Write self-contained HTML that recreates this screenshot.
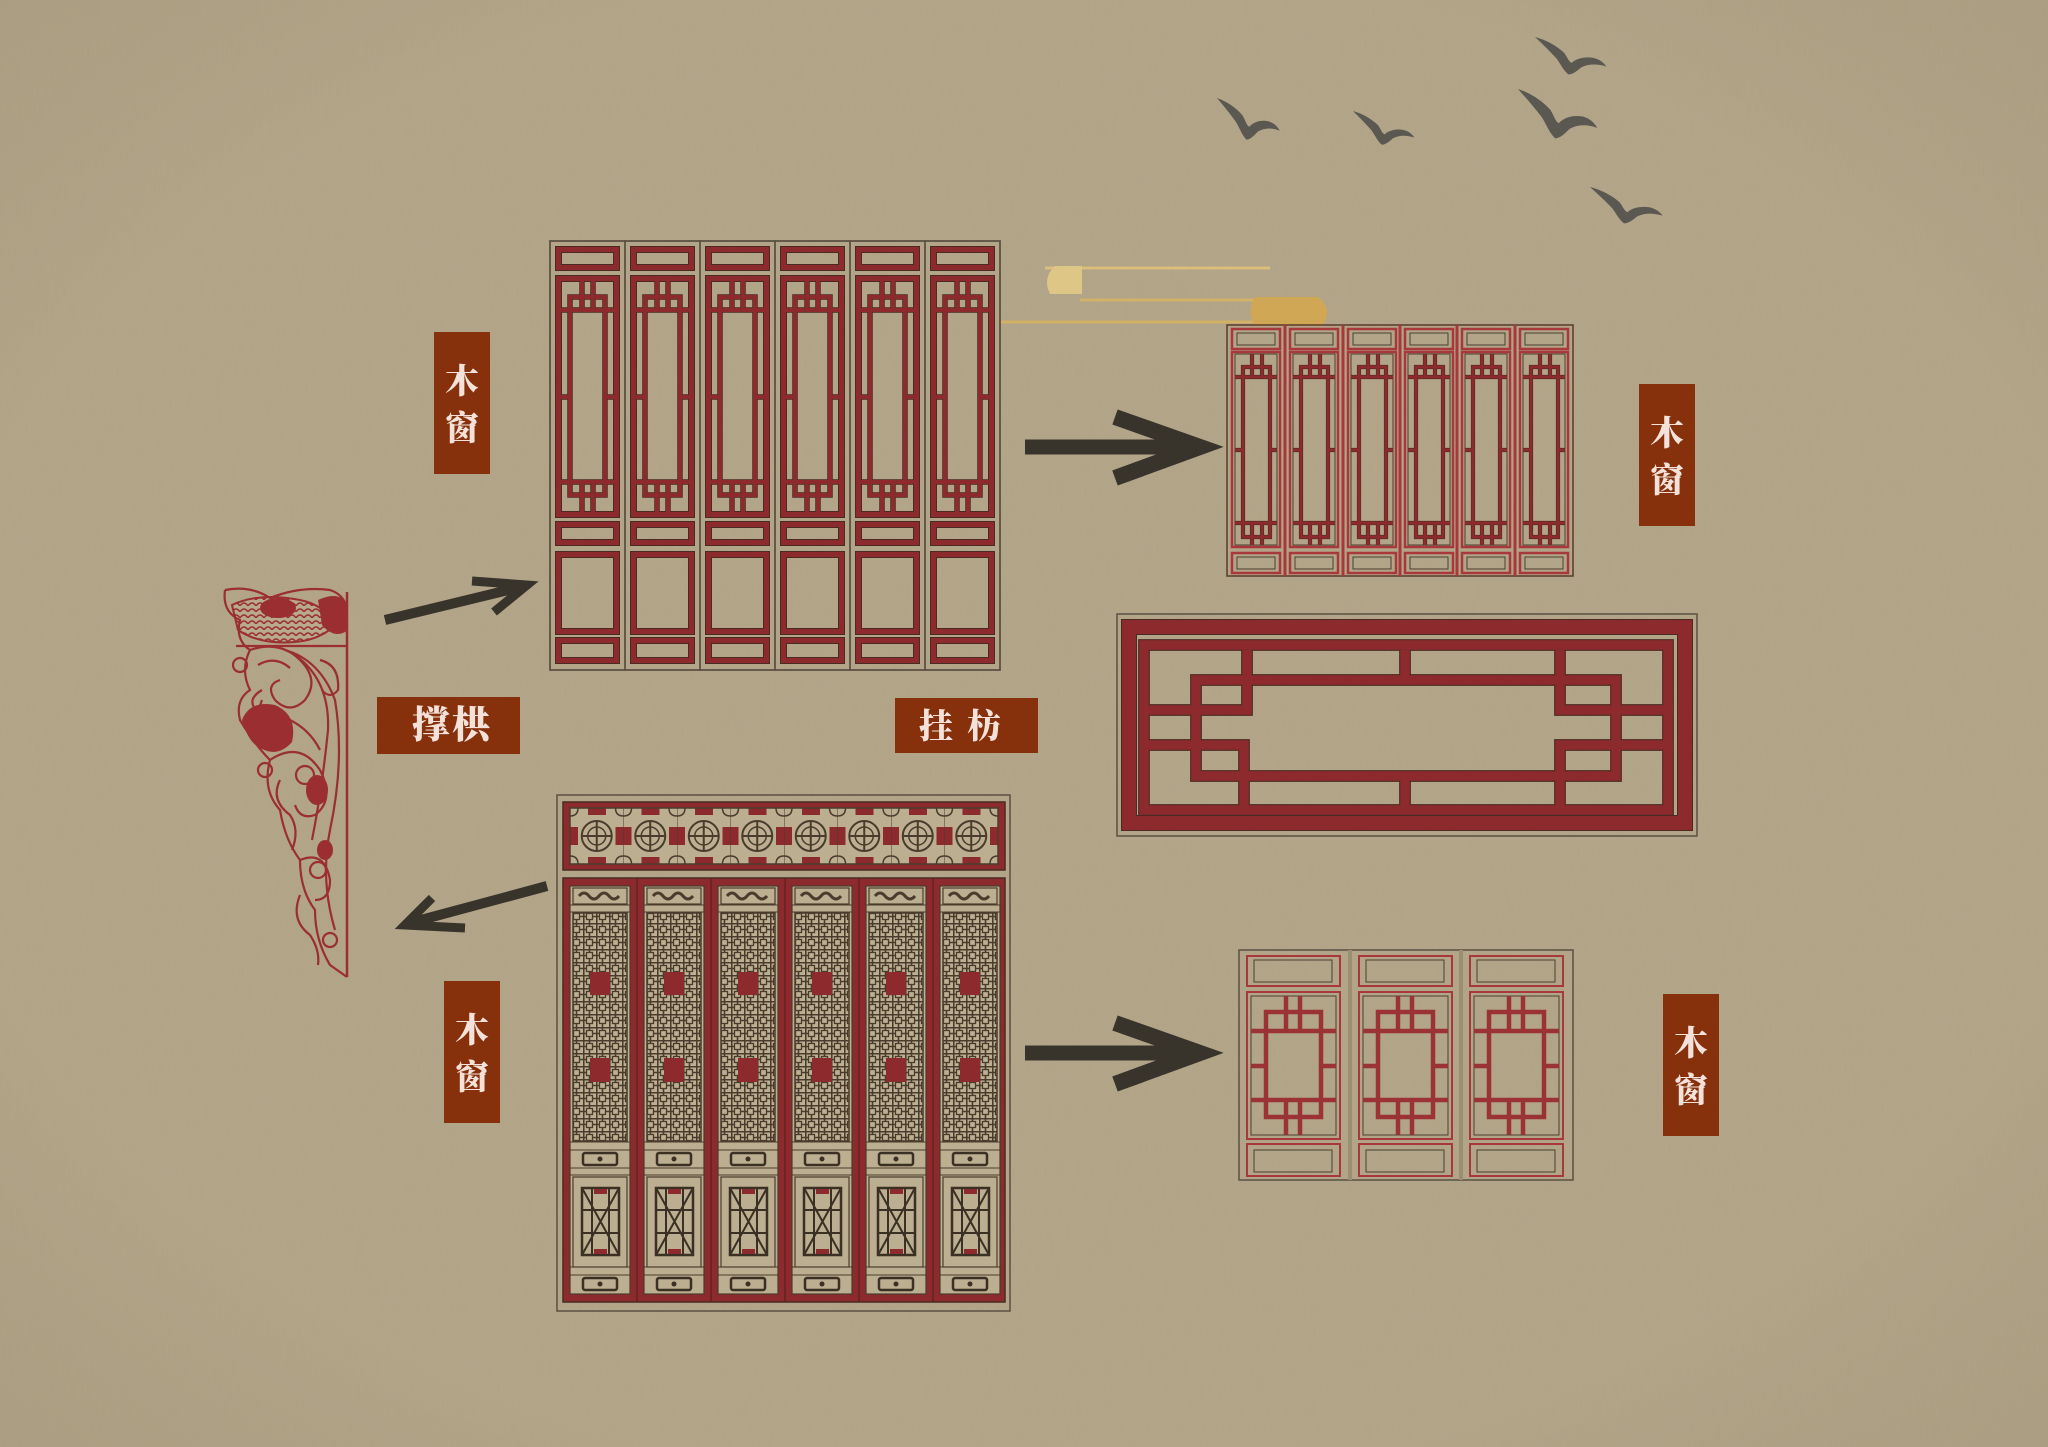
<!DOCTYPE html>
<html><head><meta charset="utf-8">
<style>
html,body{margin:0;padding:0;background:#b3a588;}
svg{display:block}
.lbl{font-family:"Liberation Serif","Noto Serif CJK SC",serif;font-weight:900;fill:#f4e2da}
</style></head>
<body>
<svg width="2048" height="1447" viewBox="0 0 2048 1447" xmlns="http://www.w3.org/2000/svg">
<defs>
  <filter id="noise" x="0" y="0" width="100%" height="100%">
    <feTurbulence type="fractalNoise" baseFrequency="0.9 0.05" numOctaves="2" seed="3"/>
    <feColorMatrix values="0 0 0 0 0.35  0 0 0 0 0.3  0 0 0 0 0.2  0 0 0 0.5 0"/>
  </filter>
  <radialGradient id="vig" cx="50%" cy="50%" r="75%">
    <stop offset="0.7" stop-color="#000" stop-opacity="0"/>
    <stop offset="1" stop-color="#3a2e1a" stop-opacity="0.07"/>
  </radialGradient>
  <pattern id="scales" width="8" height="6" patternUnits="userSpaceOnUse">
    <rect width="8" height="6" fill="#b8aa8c"/>
    <path d="M0 6Q4 0 8 6" stroke="#9a2e30" stroke-width="1.5" fill="none"/>
  </pattern>
  <pattern id="grid" width="13" height="13" patternUnits="userSpaceOnUse">
    <rect width="13" height="13" fill="#bdaf92"/>
    <path d="M0 0.75H13M0.75 0V13M6.5 0V4M6.5 9V13M0 6.5H4M9 6.5H13" stroke="#4a3c2c" stroke-width="1.6" fill="none"/>
    <rect x="3.5" y="3.5" width="6" height="6" fill="none" stroke="#4a3c2c" stroke-width="1.3"/>
  </pattern>
  <pattern id="ros" x="570" y="808" width="53.5" height="56" patternUnits="userSpaceOnUse">
    <rect width="53.5" height="56" fill="#bcae90"/>
    <rect x="0" y="19" width="8" height="18" fill="#8c2a2e"/>
    <rect x="45.5" y="19" width="8" height="18" fill="#8c2a2e"/>
    <rect x="18" y="0" width="18" height="7" fill="#8c2a2e"/>
    <rect x="18" y="49" width="18" height="7" fill="#8c2a2e"/>
    <circle cx="26.75" cy="28" r="15" fill="none" stroke="#4a3c2c" stroke-width="2"/>
    <circle cx="26.75" cy="28" r="9" fill="none" stroke="#4a3c2c" stroke-width="1.5"/>
    <path d="M26.75 13V43M11.75 28H41.75" stroke="#4a3c2c" stroke-width="2"/>
    <path d="M0 8Q8 8 8 0M53.5 8Q45.5 8 45.5 0M0 48Q8 48 8 56M53.5 48Q45.5 48 45.5 56" stroke="#4a3c2c" stroke-width="1.5" fill="none"/>
    <path d="M0 0H53.5M0 56H53.5M0 0V56" stroke="#4a3c2c" stroke-width="1"/>
  </pattern>

  <path id="tdF" fill="none" d="M8.5 8.5H66.5V26.5H8.5Z M8.5 37.5H66.5V273.5H8.5Z M8.5 283.5H66.5V301.5H8.5Z M8.5 313.5H66.5V390.5H8.5Z M8.5 399.5H66.5V419.5H8.5Z"/>
  <path id="tdL" fill="none" d="M20 56H55V254H20Z M11 69H64 M11 241H64 M32 40V69 M43 40V69 M32 241V271 M43 241V271 M11 156H20 M55 156H64"/>
  <g id="tdP">
    <rect x="0" y="0" width="75" height="429" fill="none" stroke="#5a5040" stroke-width="1.5"/>
    <use href="#tdF" stroke="#4a2a22" stroke-width="7"/>
    <use href="#tdF" stroke="#8c2a2e" stroke-width="5"/>
    <use href="#tdL" stroke="#4a2a22" stroke-width="5.5"/>
    <use href="#tdL" stroke="#8c2a2e" stroke-width="4"/>
  </g>

  <path id="rwL" fill="none" d="M16 42H43V212H16Z M8 52H50 M8 198H50 M25 29V52 M35 29V52 M25 198V220 M35 198V220 M8 125H16 M43 125H50"/>
  <g id="rwP">
    <rect x="5" y="4" width="48" height="20" fill="none" stroke="#a8383c" stroke-width="2.5"/>
    <rect x="10" y="8" width="38" height="12" fill="none" stroke="#4a4030" stroke-width="1"/>
    <rect x="5" y="27" width="48" height="195" fill="none" stroke="#a8383c" stroke-width="2.5"/>
    <rect x="8" y="29" width="42" height="191" fill="none" stroke="#4a4030" stroke-width="1"/>
    <rect x="5" y="228" width="48" height="20" fill="none" stroke="#a8383c" stroke-width="2.5"/>
    <rect x="10" y="232" width="38" height="12" fill="none" stroke="#4a4030" stroke-width="1"/>
    <use href="#rwL" stroke="#5a2a26" stroke-width="4.2"/>
    <use href="#rwL" stroke="#8c2a2e" stroke-width="2.8"/>
  </g>

  <path id="swL" fill="none" d="M27 62H82V167H27Z M12 81H97 M12 150H97 M47 46V81 M61 46V81 M47 150V185 M61 150V185 M12 116H27 M82 116H97"/>
  <g id="swP">
    <rect x="8" y="6" width="93" height="30" fill="none" stroke="#a8383c" stroke-width="2"/>
    <rect x="15" y="10" width="78" height="22" fill="none" stroke="#4a4030" stroke-width="1"/>
    <rect x="8" y="42" width="93" height="147" fill="none" stroke="#a8383c" stroke-width="2"/>
    <rect x="12" y="46" width="85" height="139" fill="none" stroke="#4a4030" stroke-width="1"/>
    <rect x="8" y="194" width="93" height="32" fill="none" stroke="#a8383c" stroke-width="2"/>
    <rect x="15" y="200" width="78" height="22" fill="none" stroke="#4a4030" stroke-width="1"/>
    <use href="#swL" stroke="#9a3236" stroke-width="4.5"/>
  </g>

  <g id="bdP">
    <rect x="0" y="886" width="60" height="408" fill="#bcae90" stroke="#4a3c2c" stroke-width="1.2"/>
    <rect x="3" y="888" width="54" height="16" fill="none" stroke="#4a3c2c" stroke-width="1.2"/>
    <path d="M9 896q5-6 10 0t10 0t10 0t10 0" stroke="#4a3c2c" stroke-width="3" fill="none"/>
    <path d="M0 905H60M0 912H60" stroke="#4a3c2c" stroke-width="1"/>
    <rect x="3" y="913" width="54" height="228" fill="url(#grid)" stroke="#4a3c2c" stroke-width="1.5"/>
    <rect x="20" y="972" width="20" height="23" fill="#8c2a2e"/>
    <rect x="20" y="1058" width="20" height="24" fill="#8c2a2e"/>
    <path d="M0 1142H60M0 1150H60M0 1168H60M0 1175H60" stroke="#4a3c2c" stroke-width="1"/>
    <rect x="13" y="1153" width="34" height="12" rx="2" fill="none" stroke="#3a3024" stroke-width="2.5"/>
    <circle cx="30" cy="1159" r="2.5" fill="#3a3024"/>
    <rect x="3" y="1177" width="54" height="90" fill="none" stroke="#4a3c2c" stroke-width="1.2"/>
    <rect x="12" y="1188" width="37" height="67" fill="none" stroke="#3a3024" stroke-width="2.5"/>
    <path d="M12 1188L49 1255M49 1188L12 1255M12 1210H49M12 1233H49M22 1188V1255M39 1188V1255" stroke="#3a3024" stroke-width="2" fill="none"/>
    <rect x="24" y="1189" width="13" height="5" fill="#8c2a2e"/>
    <rect x="24" y="1249" width="13" height="5" fill="#8c2a2e"/>
    <path d="M0 1267H60M0 1275H60" stroke="#4a3c2c" stroke-width="1"/>
    <rect x="13" y="1278" width="34" height="12" rx="2" fill="none" stroke="#3a3024" stroke-width="2.5"/>
    <circle cx="30" cy="1284" r="2.5" fill="#3a3024"/>
  </g>

  <path id="bird" d="M0 0 C10 4 20 12 27 22 C30 28 31 34 34 36 C38 30 46 27 54 29 C60 31 64 36 66 41 C58 37 50 37 43 42 C39 47 35 52 31 52 C26 46 24 38 20 30 C14 20 7 10 0 0Z" fill="#5b5852"/>
</defs>

<rect width="2048" height="1447" fill="#b4a689"/>
<rect width="2048" height="1447" filter="url(#noise)" opacity="0.3"/>
<rect width="2048" height="1447" fill="url(#vig)"/>

<!-- gold cloud -->
<g opacity="0.85">
  <path d="M1045 268 H1270" stroke="#e3c27a" stroke-width="3"/>
  <path d="M1055 266 Q1042 278 1050 294 L1082 294 L1082 266Z" fill="#e6cd86"/>
  <path d="M1080 300 H1260" stroke="#d9b462" stroke-width="3"/>
  <path d="M1000 322 H1260" stroke="#d8b361" stroke-width="3"/>
  <path d="M1255 297 L1318 297 Q1334 310 1322 326 L1255 326 Q1246 312 1255 297Z" fill="#d6a84c"/>
</g>

<!-- birds -->
<use href="#bird" transform="translate(1217,98) scale(0.95,0.8)"/>
<use href="#bird" transform="translate(1353,111) scale(0.93,0.65)"/>
<use href="#bird" transform="translate(1535,37) scale(1.08,0.72)"/>
<use href="#bird" transform="translate(1518,89) scale(1.2,0.95)"/>
<use href="#bird" transform="translate(1590,187) scale(1.1,0.7)"/>

<!-- top door -->
<rect x="550" y="241" width="450" height="429" fill="none" stroke="#5a5040" stroke-width="1.5"/>
<use href="#tdP" x="550" y="241"/>
<use href="#tdP" x="625" y="241"/>
<use href="#tdP" x="700" y="241"/>
<use href="#tdP" x="775" y="241"/>
<use href="#tdP" x="850" y="241"/>
<use href="#tdP" x="925" y="241"/>

<!-- right top window -->
<rect x="1227" y="325" width="346" height="251" fill="none" stroke="#5a3a2c" stroke-width="1.5"/>
<path d="M1285 325V576M1343 325V576M1400 325V576M1457 325V576M1515 325V576" stroke="#a8383c" stroke-width="3"/>
<use href="#rwP" x="1227" y="325"/>
<use href="#rwP" x="1285" y="325"/>
<use href="#rwP" x="1343" y="325"/>
<use href="#rwP" x="1400" y="325"/>
<use href="#rwP" x="1457" y="325"/>
<use href="#rwP" x="1515" y="325"/>

<!-- hanging beam -->
<rect x="1117" y="614" width="580" height="222" fill="none" stroke="#5a5040" stroke-width="1.5"/>
<rect x="1129" y="627" width="556" height="196" fill="none" stroke="#4a2a22" stroke-width="16"/>
<rect x="1129" y="627" width="556" height="196" fill="none" stroke="#8c2a2e" stroke-width="14"/>
<path id="beamL" fill="none" d="M1144 645H1668V810H1144Z M1196 680H1616V776H1196Z M1247 650V710H1141 M1141 745H1244V808 M1405 650V680 M1405 776V808 M1560 650V710H1673 M1673 745H1560V808" stroke="#4a2a22" stroke-width="11.5"/>
<use href="#beamL" stroke="#8c2a2e" stroke-width="9.5"/>
<path fill="none" stroke="#8c2a2e" stroke-width="9.5" d="M1144 645H1668V810H1144Z M1196 680H1616V776H1196Z M1247 650V710H1141 M1141 745H1244V808 M1405 650V680 M1405 776V808 M1560 650V710H1673 M1673 745H1560V808"/>

<!-- bottom door -->
<rect x="557" y="795" width="453" height="516" fill="none" stroke="#5a5040" stroke-width="1.5"/>
<rect x="563" y="802" width="442" height="68" fill="#8c2a2e" stroke="#4a2a22" stroke-width="1.5"/>
<rect x="570" y="808" width="428" height="56" fill="url(#ros)" stroke="#4a3c2c" stroke-width="1.5"/>
<rect x="563" y="878" width="442" height="424" fill="#8c2a2e" stroke="#4a2a22" stroke-width="1.5"/>
<path d="M637 878V1302M711 878V1302M785 878V1302M859 878V1302M933 878V1302" stroke="#5a2222" stroke-width="1.2"/>
<use href="#bdP" x="570"/>
<use href="#bdP" x="644"/>
<use href="#bdP" x="718"/>
<use href="#bdP" x="792"/>
<use href="#bdP" x="866"/>
<use href="#bdP" x="940"/>

<!-- bottom small window -->
<rect x="1239" y="950" width="334" height="230" fill="none" stroke="#5a5040" stroke-width="1.5"/>
<path d="M1350 950V1180M1461 950V1180" stroke="#9c8e72" stroke-width="4"/>
<use href="#swP" x="1239" y="950"/>
<use href="#swP" x="1351" y="950"/>
<use href="#swP" x="1462" y="950"/>

<!-- bracket carving -->
<g fill="#9a2e30">
  <path d="M232 605 Q260 592 300 600 Q325 605 335 625 Q320 640 295 642 Q260 645 238 630Z" fill="url(#scales)" stroke="#9a2e30" stroke-width="2"/>
  <ellipse cx="278" cy="608" rx="18" ry="10"/>
  <path d="M318 600 Q340 590 348 605 L348 630 Q335 640 322 625Z"/>
  <path d="M242 720 Q250 700 275 705 Q298 715 292 742 Q278 758 260 748 Q248 742 242 720Z"/>
  <ellipse cx="317" cy="790" rx="11" ry="15"/>
  <ellipse cx="325" cy="850" rx="8" ry="10"/>
</g>
<g fill="none" stroke="#9a2e30" stroke-width="2.2">
  <path d="M347 592V977" stroke-width="2.5"/>
  <path d="M225 590 Q250 585 270 598 Q300 586 330 590 Q345 595 347 610"/>
  <path d="M225 590 Q222 612 240 620 Q235 640 250 650 Q240 670 250 690 Q235 700 240 720 Q255 745 270 760 Q262 790 280 810 Q285 840 300 860 Q300 890 315 910 Q315 940 330 965 L347 977"/>
  <path d="M236 646 H347"/>
  <path d="M250 650 Q280 640 300 660 Q320 680 305 700 Q290 715 275 700 Q265 685 280 680"/>
  <path d="M258 665 Q275 655 290 668 M262 690 Q245 700 258 712"/>
  <path d="M270 760 Q300 740 320 770 Q335 800 315 815 Q300 820 295 805"/>
  <path d="M285 650 Q320 660 335 700 Q345 760 330 830 Q320 880 335 930"/>
  <path d="M295 655 Q330 680 328 730 Q322 790 312 840"/>
  <path d="M300 860 Q325 850 330 880 Q330 900 315 900"/>
  <path d="M262 700 Q250 730 275 745 M290 720 Q310 730 320 750"/>
  <path d="M280 780 Q270 800 290 815 Q300 830 292 850"/>
  <path d="M300 895 Q290 920 310 935 Q320 950 318 965"/>
  <path d="M320 660 Q340 665 338 690 Q330 700 322 690"/>
  <circle cx="240" cy="665" r="7"/><circle cx="318" cy="870" r="8"/><circle cx="330" cy="940" r="7"/><circle cx="305" cy="775" r="9"/><circle cx="265" cy="770" r="7"/>
</g>

<!-- arrows -->
<g fill="none" stroke="#38342b" stroke-linecap="butt" stroke-linejoin="miter">
  <path d="M1025 447H1190" stroke-width="15"/>
  <path d="M1115 417L1200 447L1115 478" stroke-width="16"/>
  <path d="M1025 1053H1190" stroke-width="15"/>
  <path d="M1115 1023L1200 1053L1115 1084" stroke-width="16"/>
  <path d="M385 620L525 586" stroke-width="10"/>
  <path d="M472 581L527 585L494 612" stroke-width="9"/>
  <path d="M547 886L406 924" stroke-width="10"/>
  <path d="M432 898L405 925L465 928" stroke-width="9"/>
</g>

<!-- labels -->
<rect x="434" y="332" width="56" height="142" fill="#86310c"/>
<text class="lbl" x="462" y="393" font-size="34" text-anchor="middle">木</text>
<text class="lbl" x="462" y="440" font-size="34" text-anchor="middle">窗</text>

<rect x="1639" y="384" width="56" height="142" fill="#86310c"/>
<text class="lbl" x="1667" y="445" font-size="34" text-anchor="middle">木</text>
<text class="lbl" x="1667" y="492" font-size="34" text-anchor="middle">窗</text>

<rect x="444" y="981" width="56" height="142" fill="#86310c"/>
<text class="lbl" x="472" y="1042" font-size="34" text-anchor="middle">木</text>
<text class="lbl" x="472" y="1089" font-size="34" text-anchor="middle">窗</text>

<rect x="1663" y="994" width="56" height="142" fill="#86310c"/>
<text class="lbl" x="1691" y="1055" font-size="34" text-anchor="middle">木</text>
<text class="lbl" x="1691" y="1102" font-size="34" text-anchor="middle">窗</text>

<rect x="377" y="697" width="143" height="57" fill="#86310c"/>
<text class="lbl" x="452" y="738" font-size="38" text-anchor="middle" letter-spacing="2">撑栱</text>

<rect x="895" y="698" width="143" height="55" fill="#86310c"/>
<text class="lbl" x="967" y="738" font-size="34" text-anchor="middle" letter-spacing="14">挂枋</text>
</svg>
</body></html>
